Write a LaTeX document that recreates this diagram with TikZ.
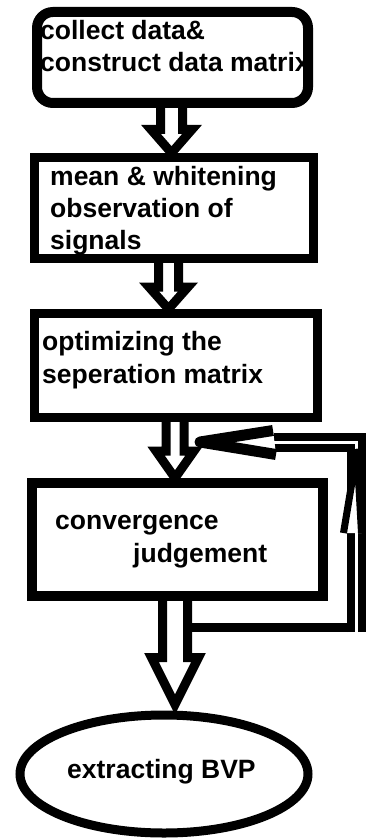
\documentclass[tikz,border=0pt]{standalone}
\usepackage{fontspec}
\setmainfont{Liberation Sans}
\usetikzlibrary{calc,shapes.geometric}

\pgfdeclarelayer{paper}
\pgfdeclarelayer{under}
\pgfsetlayers{paper,under,main}

\begin{document}
\begin{tikzpicture}[x=1pt,y=-1pt,
  box/.style={draw=black, inner sep=0pt},
  lbl/.style={anchor=base west, inner sep=0pt, font=\fontsize{26.5}{32}\selectfont\bfseries},
  hollow/.style={draw=black, fill=white, line width=9pt, line join=miter},
  % hollow block arrow: shaft half width, head half width, head length
  blk/.style n args={3}{to path={let \p1=(\tikztostart), \p2=(\tikztotarget) in
     (\x1-#1,\y1) -- (\x1-#1,\y2+#3) -- (\x1-#2,\y2+#3) -- (\x1,\y2)
     -- (\x1+#2,\y2+#3) -- (\x1+#1,\y2+#3) -- (\x1+#1,\y1)}},
  loopline/.style={draw=black, line width=9pt},
  loopdouble/.style={draw=black, double=white, double distance=3pt, line width=8pt},
  loophead/.style={draw=black, fill=white, line join=round}
]

\begin{pgfonlayer}{paper}
  \fill[white] (0,0) rectangle (366,840);
\end{pgfonlayer}
\useasboundingbox (0,0) rectangle (366,840);

% process boxes
\node[box, line width=10pt, rounded corners=16pt, minimum width=271pt, minimum height=91pt] (b1) at (172.5,57.5) {};
\node[box, line width=9pt, minimum width=279pt, minimum height=101pt] (b2) at (174,208) {};
\node[box, line width=9pt, minimum width=283pt, minimum height=104pt] (b3) at (176,365.5) {};
\node[box, line width=10pt, minimum width=291pt, minimum height=113pt] (b4) at (177.5,539.5) {};
\node[box, ellipse, line width=9pt, minimum width=288pt, minimum height=118pt] (e) at (164,774) {};

\begin{pgfonlayer}{under}
  % feedback loop from the last step back to the convergence check
  \coordinate (q0) at (187,627.5);
  \coordinate (q1) at (366,627.5);
  \coordinate (q2) at (356.5,632);
  \coordinate (q4) at (274,442.5);
  \coordinate (q5) at (200,442);
  \coordinate (u1) at (343.5,533);
  \coordinate (u2) at (357,452);
  \coordinate (u3) at (361.5,533);
  \coordinate (h1) at (273,430.5);
  \coordinate (h2) at (276,454.5);
  \draw[loopline] (q0) -- (q1);
  \draw[loopdouble] (q2) |- (q4);
  \draw[loophead, line width=7pt] (u1) -- (u2) -- (u3);
  \draw[loophead, line width=11pt] (h1) -- (q5) -- (h2);

  % flow arrows
  \draw[hollow, blk={11pt}{20.5pt}{23.5pt}] ([xshift=-1pt,yshift=3pt]b1.south) to (b2.north);
  \draw[hollow, blk={10pt}{19.5pt}{22pt}] ([xshift=-5.5pt,yshift=3pt]b2.south) to (b3.north);
  \draw[hollow, blk={9pt}{19pt}{27pt}] ([xshift=-1pt,yshift=3pt]b3.south) to (b4.north);
  \draw[hollow, blk={12.5pt}{23.5pt}{47pt}] ([xshift=-2.5pt,yshift=3pt]b4.south) to ([yshift=6pt]e.north);

  % step texts
  \node[lbl] (t1a) at (40,40) {collect data\&};
  \node[lbl] (t1b) at (40,72) {construct data matrix};
  \node[lbl] (t2a) at (50,185) {mean \& whitening};
  \node[lbl] (t2b) at (50,217) {observation of};
  \node[lbl] (t2c) at (50,249) {signals};
  \node[lbl] (t3a) at (42,350) {optimizing the};
  \node[lbl] (t3b) at (42,383) {seperation matrix};
  \node[lbl] (t4a) at (55,529) {convergence};
  \node[lbl] (t4b) at (133,562) {judgement};
  \node[lbl] (t5) at (67,778) {extracting BVP};
\end{pgfonlayer}

\end{tikzpicture}
\end{document}
